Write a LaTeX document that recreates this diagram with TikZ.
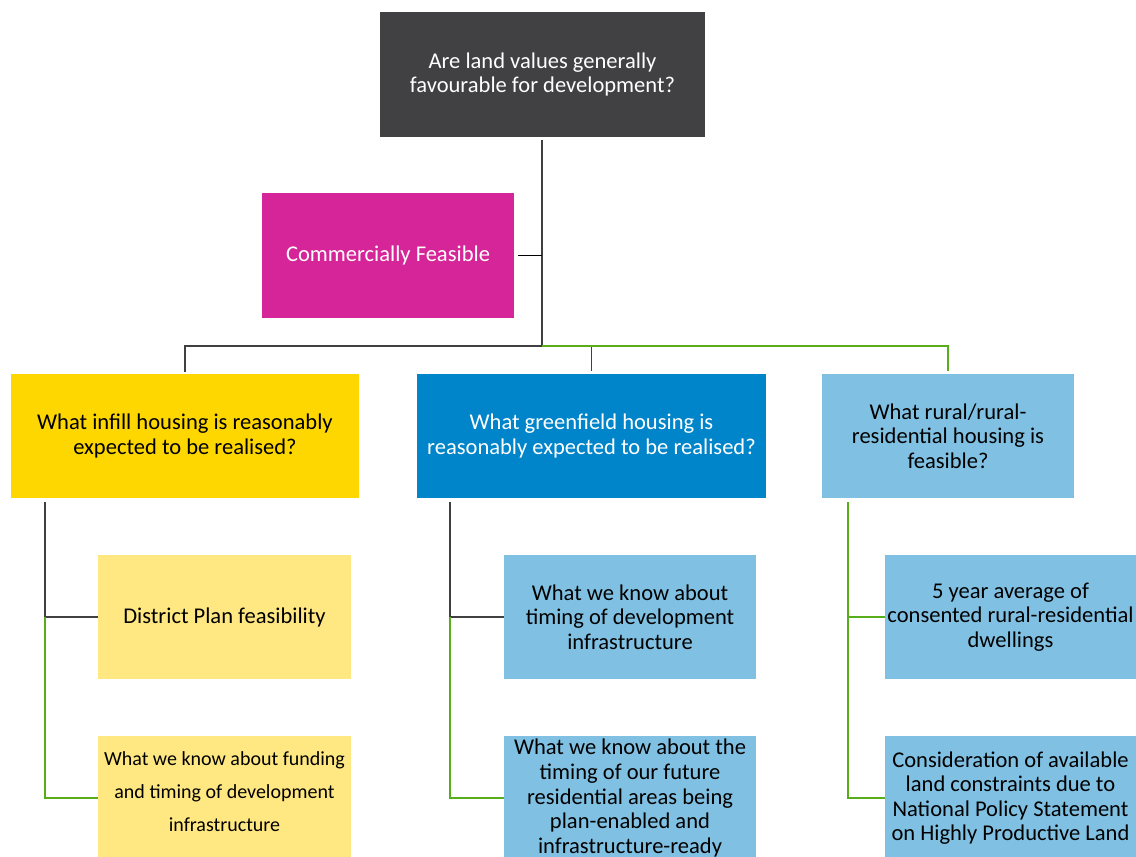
\documentclass[tikz,border=0pt]{standalone}
\usepackage{fontspec}
\setmainfont{Carlito}
\definecolor{cDark}{HTML}{414042}
\definecolor{cMag}{HTML}{D62598}
\definecolor{cYel}{HTML}{FFD700}
\definecolor{cBlue}{HTML}{0085CA}
\definecolor{cLBlue}{HTML}{80C1E3}
\definecolor{cLYel}{HTML}{FFE882}
\definecolor{cGreen}{HTML}{58AD1A}
\definecolor{cLine}{HTML}{404040}
\tikzset{
  box/.style={draw=none, inner sep=2pt, align=center, font=\fontsize{16.9}{18.4}\selectfont},
  dline/.style={draw=cLine, line width=1.1pt},
  gline/.style={draw=cGreen, line width=1.5pt},
}
\begin{document}
\begin{tikzpicture}[x=0.75pt,y=-0.75pt]
\useasboundingbox (0,0) rectangle (1136,857);
\clip (0,0) rectangle (1136,857);
% boxes
\node[box, fill=cDark, text=white, minimum width={325*0.75pt}, minimum height={125*0.75pt}] (top) at (542.5,74.5) {Are land values generally\\favourable for development?};
\node[box, fill=cMag, text=white, minimum width={252*0.75pt}, minimum height={125*0.75pt}] (comm) at (388,255.5) {Commercially Feasible};
\node[box, fill=cYel, text=black, minimum width={348*0.75pt}, minimum height={124*0.75pt}] (infill) at (185,436) {What infill housing is reasonably\\expected to be realised?};
\node[box, fill=cBlue, text=white, minimum width={349*0.75pt}, minimum height={124*0.75pt}] (green) at (591.5,436) {What greenfield housing is\\reasonably expected to be realised?};
\node[box, fill=cLBlue, text=black, minimum width={252*0.75pt}, minimum height={124*0.75pt}] (rural) at (948,436) {What rural/rural-\\residential housing is\\feasible?};
\node[box, fill=cLYel, text=black, minimum width={253*0.75pt}, minimum height={124*0.75pt}] (dp) at (224.5,617) {District Plan feasibility};
\node[box, fill=cLYel, text=black, minimum width={253*0.75pt}, minimum height={124*0.75pt}] (fund) at (224.5,798) {};
\node[align=center, font=\fontsize{15}{24.75}\selectfont] (fundtxt) at (224.5,792) {What we know about funding\\and timing of development\\infrastructure};
\node[box, fill=cLBlue, text=black, minimum width={252*0.75pt}, minimum height={124*0.75pt}] (gs1) at (630,617) {What we know about\\timing of development\\infrastructure};
\node[box, fill=cLBlue, text=black, minimum width={252*0.75pt}, minimum height={124*0.75pt}] (gs2) at (630,798) {What we know about the\\timing of our future\\residential areas being\\plan-enabled and\\infrastructure-ready};
\node[box, fill=cLBlue, text=black, minimum width={251*0.75pt}, minimum height={124*0.75pt}] (rs1) at (1010.5,617) {5 year average of\\consented rural-residential\\dwellings};
\node[box, fill=cLBlue, text=black, minimum width={251*0.75pt}, minimum height={124*0.75pt}] (rs2) at (1010.5,798) {Consideration of available\\land constraints due to\\National Policy Statement\\on Highly Productive Land};
% connector coordinates
\coordinate (hub) at (542,346);
\coordinate (tbot) at (542,140);
\coordinate (ix) at (45,502);
\coordinate (gx) at (450,502);
\coordinate (rx) at (848,502);
% top trunk
\draw[dline] (tbot) -- (hub);
\draw[line width=1.1pt, black] (comm.east) ++(4,0) -- (comm.east -| hub);
% branches
\draw[dline] (infill.north) ++(0,-2) |- (hub) -| ([yshift=2]green.north);
\draw[gline] (hub) -| ([yshift=2]rural.north);
% infill children
\draw[dline] (ix) |- (dp.west);
\draw[gline] (ix |- dp.west) |- (fund.west);
% greenfield children
\draw[dline] (gx) |- (gs1.west);
\draw[gline] (gx |- gs1.west) |- (gs2.west);
% rural children
\draw[gline] (rx) |- (rs1.west);
\draw[gline] (rx |- rs1.west) |- (rs2.west);
\end{tikzpicture}
\end{document}
